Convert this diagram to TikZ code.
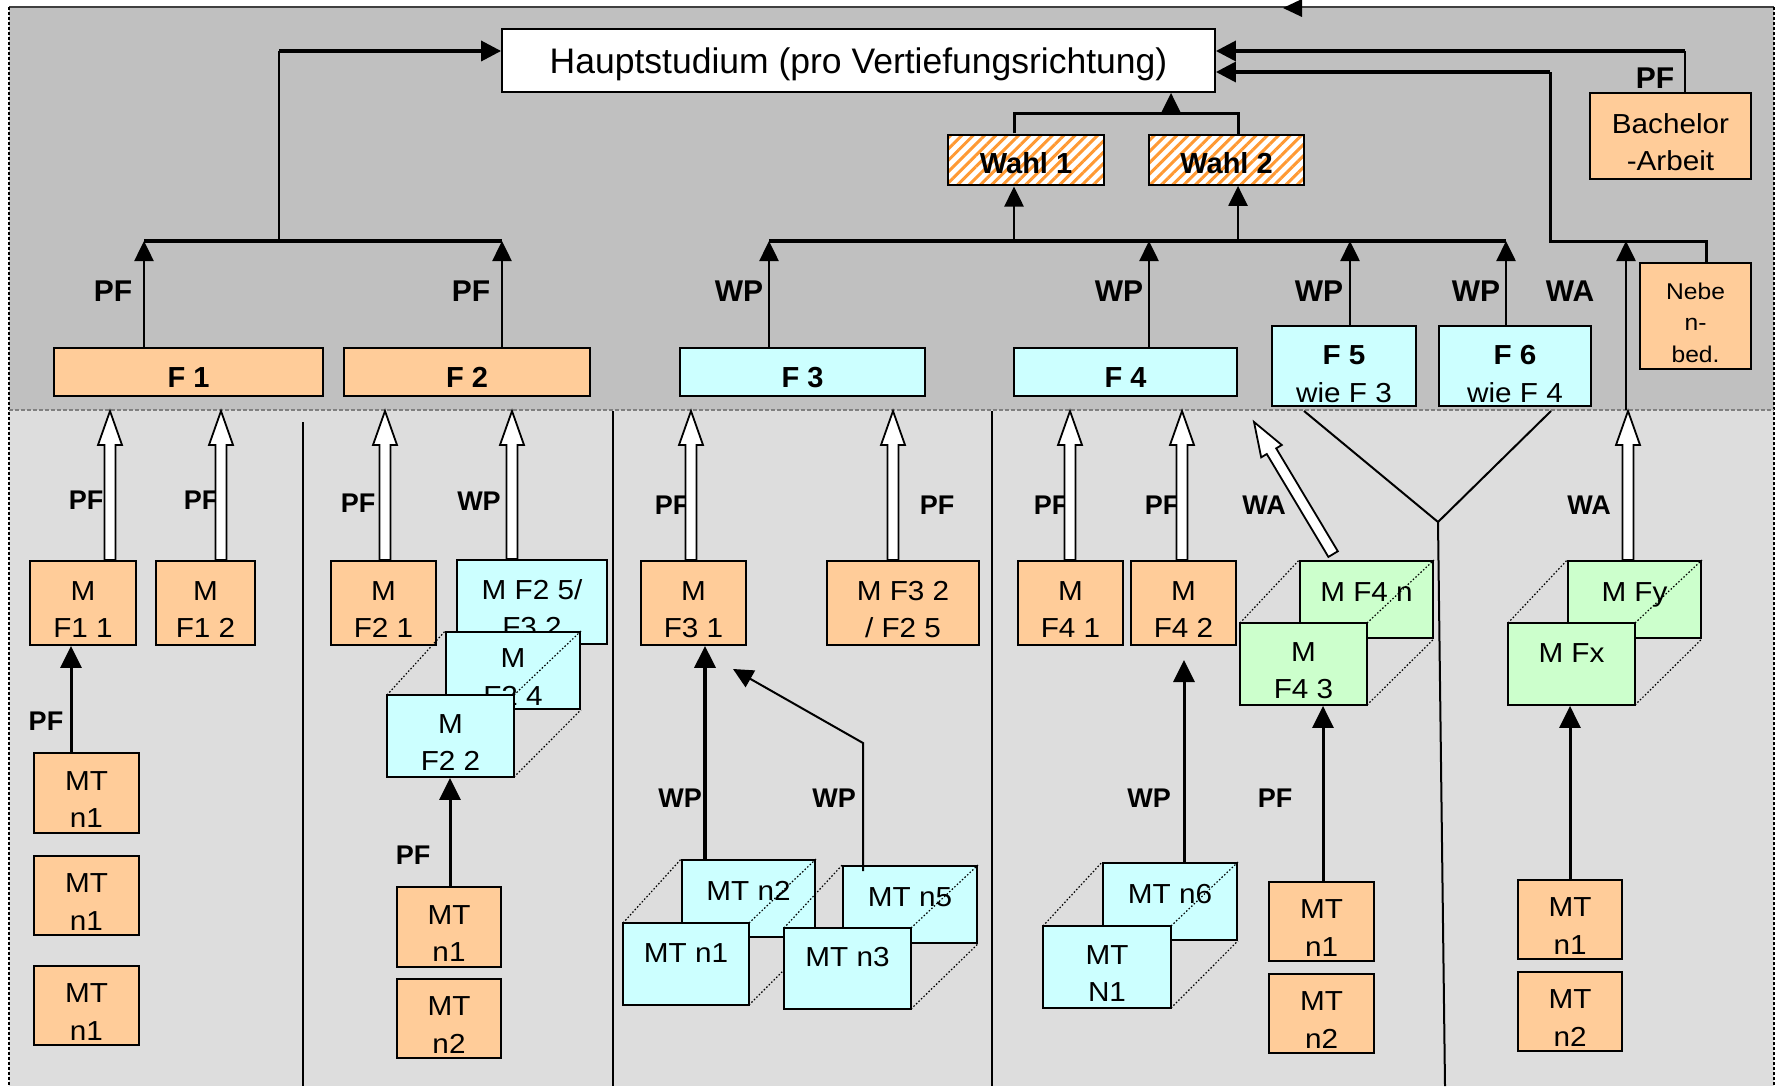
\documentclass[tikz,border=0pt]{standalone}
\usepackage{fontspec}
\setmainfont{Liberation Sans}
\newfontfamily\boxfam{Liberation Sans}[FakeStretch=1.08]
\usetikzlibrary{arrows.meta,calc,patterns.meta}
\definecolor{peach}{HTML}{FFCC99}
\definecolor{cyanb}{HTML}{CCFFFF}
\definecolor{greenb}{HTML}{CCFFCC}
\definecolor{topgray}{HTML}{C0C0C0}
\definecolor{lowgray}{HTML}{DDDDDD}
\definecolor{hatchc}{HTML}{FF9933}
\newcommand{\boxfont}{\boxfam\fontsize{27.5}{37.5}\selectfont}
\newcommand{\fbfont}{\fontsize{29}{36}\selectfont\bfseries}
\newcommand{\lblfont}{\fontsize{27}{30}\selectfont\bfseries}
\newcommand{\tlblfont}{\fontsize{30}{32}\selectfont\bfseries}
\newcommand{\hArrow}[2]{%
  \coordinate (hb) at ($(#2)!34pt!(#1)$);
  \filldraw[hol] ($(#1)!5.5pt!90:(#2)$) -- ($(hb)!5.5pt!90:(#2)$) -- ($(hb)!12pt!90:(#2)$) -- (#2) -- ($(hb)!12pt!-90:(#2)$) -- ($(hb)!5.5pt!-90:(#2)$) -- ($(#1)!5.5pt!-90:(#2)$) -- cycle;}
\tikzset{
  bx/.style={draw=black, line width=1.8pt, inner sep=0pt, align=center, font=\boxfont, text height=69pt, text depth=0pt},
  pbox/.style={bx, fill=peach},
  cbox/.style={bx, fill=cyanb},
  gbox/.style={bx, fill=greenb},
  one/.style={font=\fbfont, text height=31pt, text depth=0pt},
  wahl/.style={bx, preaction={fill=white}, pattern={Lines[angle=45,distance=8pt,line width=3pt]}, pattern color=hatchc, font=\fbfont, text height=28pt, text depth=0pt},
  lbl/.style={font=\lblfont, inner sep=0pt},
  tlbl/.style={font=\tlblfont, inner sep=0pt},
  upb/.style={text height=20pt, text depth=17pt},
  upf/.style={text height=20pt, text depth=24pt},
  hol/.style={draw=black, fill=white, line width=1.8pt, line join=miter},
  arr/.style={line width=2.5pt, -{Triangle[length=20pt,width=19pt]}},
  larr/.style={line width=3pt, -{Triangle[length=22pt,width=21pt]}},
  tharr/.style={line width=2pt, -{Triangle[length=20pt,width=19pt]}},
  bar/.style={line width=3.5pt},
  ln/.style={line width=2.5pt},
  bararr/.style={line width=3.5pt, -{Triangle[length=20pt,width=20pt]}},
  dots/.style={line width=1.2pt, dash pattern=on 1.5pt off 2pt},
  divl/.style={line width=2pt}
}
\begin{document}
\begin{tikzpicture}[x=1pt,y=-1pt]
\useasboundingbox (0,0) rectangle (1776,1086);
% backgrounds
\fill[white] (0,0) rectangle (1776,1086);
\fill[topgray] (9,7) rectangle (1774,410);
\fill[lowgray] (9,410) rectangle (1774,1086);
\draw[line width=1.5pt, black!75] (9,7) -- (1774,7);
\draw[line width=1.2pt, dash pattern=on 3pt off 2pt] (9,7) -- (9,1086);
\draw[line width=1.2pt, dash pattern=on 3pt off 2pt] (1774,7) -- (1774,1086);
\draw[line width=1.2pt, gray, dash pattern=on 4pt off 2pt] (9,410) -- (1774,410);
\fill (1283,8) -- (1302,-1) -- (1302,17) -- cycle;
% dividers
\draw[divl] (303,422) -- (303,1086);
\draw[divl] (613,411) -- (613,1086);
\draw[divl] (992,411) -- (992,1086);
\draw[divl] (1304,411) -- (1438,522) -- (1551,411);
\draw[divl] (1438,522) -- (1445,1086);

% ---------- top part ----------
\node[bx, fill=white, minimum width=713, minimum height=63, font=\fontsize{35.5}{40}\selectfont, text height=27pt, text depth=0pt] (haupt) at (858.5,60.5) {Hauptstudium (pro Vertiefungsrichtung)};
\node[pbox, one, minimum width=269, minimum height=48] (F1) at (188.5,372) {F 1};
\node[pbox, one, minimum width=246, minimum height=48] (F2) at (467,372) {F 2};
\node[cbox, one, minimum width=245, minimum height=48] (F3) at (802.5,372) {F 3};
\node[cbox, one, minimum width=223, minimum height=48] (F4) at (1125.5,372) {F 4};
\node[cbox, text height=72pt, text depth=0pt, minimum width=144, minimum height=80] (F5) at (1344,366) {\textbf{F 5}\\wie F 3};
\node[cbox, text height=72pt, text depth=0pt, minimum width=152, minimum height=80] (F6) at (1515,366) {\textbf{F 6}\\wie F 4};
\node[wahl, minimum width=156, minimum height=50] (W1) at (1026,160) {Wahl 1};
\node[wahl, minimum width=155, minimum height=50] (W2) at (1226.5,160) {Wahl 2};
\node[pbox, minimum width=161, minimum height=86, font=\boxfam\fontsize{27.5}{37}\selectfont, text height=69pt, text depth=0pt] (BA) at (1670.5,136) {Bachelor\\-Arbeit};
\node[pbox, minimum width=111, minimum height=106, font=\boxfam\fontsize{22.8}{31.5}\selectfont, text height=92pt, text depth=0pt] (NB) at (1695.5,316) {Nebe\\n-\\bed.};

\node[tlbl] (tl1) at (113,291) {PF};
\node[tlbl] (tl2) at (471,291) {PF};
\node[tlbl] (tl3) at (739,291) {WP};
\node[tlbl] (tl4) at (1119,291) {WP};
\node[tlbl] (tl5) at (1319,291) {WP};
\node[tlbl] (tl6) at (1476,291) {WP};
\node[tlbl] (tl7) at (1570,291) {WA};
\node[tlbl] (tl8) at (1655,78) {PF};

\coordinate (b1L) at (144,241);
\coordinate (b1M) at (279,241);
\coordinate (b1R) at (502,241);
\coordinate (hL) at ($(haupt.west)+(0,-9.5)$);
\draw[arr] (F1.north -| b1L) -- (b1L);
\draw[arr] (F2.north -| b1R) -- (b1R);
\draw[bar] (b1L) -- (b1R);
\draw[ln] (b1M) -- (b1M |- hL);
\draw[bararr] (b1M |- hL) -- (hL);

\coordinate (bF3) at (769,241);
\coordinate (bW1) at (1014,241);
\coordinate (bF4) at (1149,241);
\coordinate (bW2) at (1238,241);
\coordinate (bF5) at (1350,241);
\coordinate (bF6) at (1506,241);
\draw[arr] (F3.north -| bF3) -- (bF3);
\draw[arr] (F4.north -| bF4) -- (bF4);
\draw[arr] (F5.north -| bF5) -- (bF5);
\draw[arr] (F6.north -| bF6) -- (bF6);
\draw[bar] (bF3) -- (bF6);
\draw[arr] (bW1) -- (bW1 |- W1.south);
\draw[arr] (bW2) -- (bW2 |- W2.south);
\coordinate (wtop) at (1171,114);
\draw[line width=3pt] (bW1 |- W1.north) -- (bW1 |- wtop) -- (bW2 |- wtop) -- (bW2 |- W2.north);
\draw[arr] (wtop) -- (wtop |- haupt.south);

\coordinate (hR1) at ($(haupt.east)+(0,-9.5)$);
\coordinate (hR2) at ($(haupt.east)+(0,11.5)$);
\coordinate (baX) at (1685,0);
\draw[ln] (BA.north -| baX) -- (baX |- hR1);
\draw[bararr] (baX |- hR1) -- (hR1);
\coordinate (nbJ) at (1706,241);
\coordinate (jX) at (1550,241);
\draw[line width=3pt] (NB.north -| nbJ) -- (nbJ) -- (jX) -- (jX |- hR2);
\draw[bararr] (jX |- hR2) -- (hR2);
\coordinate (waT) at (1626,241);
\coordinate (waB) at (1626,410);
\draw[arr] (waB) -- (waT);

% ---------- lower labels ----------
\node[lbl] (l1) at (86,500) {PF};
\node[lbl] (l2) at (201,500) {PF};
\node[lbl] (l3) at (358,503) {PF};
\node[lbl] (l4) at (479,501) {WP};
\node[lbl] (l5) at (672,505) {PF};
\node[lbl] (l6) at (937,505) {PF};
\node[lbl] (l7) at (1051,505) {PF};
\node[lbl] (l8) at (1162,505) {PF};
\node[lbl] (l9) at (1264,505) {WA};
\node[lbl] (l10) at (1589,505) {WA};
\node[lbl] (l11) at (46,721) {PF};
\node[lbl] (l12) at (413,855) {PF};
\node[lbl] (l13) at (680,798) {WP};
\node[lbl] (l14) at (834,798) {WP};
\node[lbl] (l15) at (1149,798) {WP};
\node[lbl] (l16) at (1275,798) {PF};

% ---------- column 1 ----------
\node[pbox, minimum width=106, minimum height=84] (MF11) at (83,603) {M\\F1 1};
\node[pbox, minimum width=99, minimum height=84] (MF12) at (205.5,603) {M\\F1 2};
\node[pbox, minimum width=105, minimum height=80] (MTa1) at (86.5,793) {MT\\n1};
\node[pbox, minimum width=105, minimum height=79] (MTa2) at (86.5,895.5) {MT\\n1};
\node[pbox, minimum width=105, minimum height=79] (MTa3) at (86.5,1005.5) {MT\\n1};
% ---------- column 2 ----------
\node[pbox, minimum width=105, minimum height=84] (MF21) at (383.5,603) {M\\F2 1};
\node[cbox, minimum width=150, minimum height=84] (MF25) at (532,602) {M F2 5/\\F3 2};
\node[cbox, minimum width=134, minimum height=77] (MF24) at (513,670.5) {M\\F2 4};
\draw[dots] (387,695) -- (MF24.north west) (514,695) -- (MF24.north east) (514,777) -- (MF24.south east);
\node[cbox, minimum width=127, minimum height=82] (MF22) at (450.5,736) {M\\F2 2};
\node[pbox, minimum width=104, minimum height=80] (MTb1) at (449,927) {MT\\n1};
\node[pbox, minimum width=104, minimum height=79] (MTb2) at (449,1018.5) {MT\\n2};
% ---------- column 3 ----------
\node[pbox, minimum width=105, minimum height=84] (MF31) at (693.5,603) {M\\F3 1};
\node[pbox, minimum width=152, minimum height=84] (MF32) at (903,603) {M F3 2\\/ F2 5};
\node[cbox, upb, minimum width=133, minimum height=77] (MTc2) at (748.5,898.5) {MT n2};
\draw[dots] (623,923) -- (MTc2.north west) (749,923) -- (MTc2.north east) (749,1005) -- (MTc2.south east);
\node[cbox, upf, minimum width=126, minimum height=82] (MTc1) at (686,964) {MT n1};
\node[cbox, upb, minimum width=134, minimum height=77] (MTc5) at (910,904.5) {MT n5};
\draw[dots] (784,928) -- (MTc5.north west) (911,928) -- (MTc5.north east) (911,1009) -- (MTc5.south east);
\node[cbox, upf, minimum width=127, minimum height=81] (MTc3) at (847.5,968.5) {MT n3};
% ---------- column 4 ----------
\node[pbox, minimum width=105, minimum height=84] (MF41) at (1070.5,603) {M\\F4 1};
\node[pbox, minimum width=105, minimum height=84] (MF42) at (1183.5,603) {M\\F4 2};
\node[gbox, upb, minimum width=133, minimum height=77] (MF4n) at (1366.5,599.5) {M F4 n};
\draw[dots] (1240,623) -- (MF4n.north west) (1367,623) -- (MF4n.north east) (1367,705) -- (MF4n.south east);
\node[gbox, minimum width=127, minimum height=82] (MF43) at (1303.5,664) {M\\F4 3};
\node[cbox, upb, minimum width=134, minimum height=77] (MTd6) at (1170,901.5) {MT n6};
\draw[dots] (1043,926) -- (MTd6.north west) (1171,926) -- (MTd6.north east) (1171,1008) -- (MTd6.south east);
\node[cbox, minimum width=128, minimum height=82] (MTdN) at (1107,967) {MT\\N1};
\node[pbox, minimum width=105, minimum height=79] (MTe1) at (1321.5,921.5) {MT\\n1};
\node[pbox, minimum width=105, minimum height=79] (MTe2) at (1321.5,1013.5) {MT\\n2};
% ---------- column 5 ----------
\node[gbox, upb, minimum width=133, minimum height=77] (MFy) at (1634.5,599.5) {M Fy};
\draw[dots] (1508,623) -- (MFy.north west) (1635,623) -- (MFy.north east) (1635,705) -- (MFy.south east);
\node[gbox, upf, minimum width=127, minimum height=82] (MFx) at (1571.5,664) {M Fx};
\node[pbox, minimum width=104, minimum height=79] (MTf1) at (1570,919.5) {MT\\n1};
\node[pbox, minimum width=104, minimum height=79] (MTf2) at (1570,1011.5) {MT\\n2};

% ---------- hollow arrows ----------
\coordinate (h1e) at (110,411);  \coordinate (h1s) at (MF11.north -| h1e);  \hArrow{h1s}{h1e}
\coordinate (h2e) at (221,411);  \coordinate (h2s) at (MF12.north -| h2e);  \hArrow{h2s}{h2e}
\coordinate (h3e) at (385,411);  \coordinate (h3s) at (MF21.north -| h3e);  \hArrow{h3s}{h3e}
\coordinate (h4e) at (512,411);  \coordinate (h4s) at (MF25.north -| h4e);  \hArrow{h4s}{h4e}
\coordinate (h5e) at (691,411);  \coordinate (h5s) at (MF31.north -| h5e);  \hArrow{h5s}{h5e}
\coordinate (h6e) at (893,411);  \coordinate (h6s) at (MF32.north -| h6e);  \hArrow{h6s}{h6e}
\coordinate (h7e) at (1070,411); \coordinate (h7s) at (MF41.north -| h7e);  \hArrow{h7s}{h7e}
\coordinate (h8e) at (1182,411); \coordinate (h8s) at (MF42.north -| h8e);  \hArrow{h8s}{h8e}
\coordinate (h9e) at (1254,422); \coordinate (h9s) at ($(MF4n.north west)+(34,-6)$); \hArrow{h9s}{h9e}
\coordinate (h10e) at (1628,411); \coordinate (h10s) at (MFy.north -| h10e); \hArrow{h10s}{h10e}

% ---------- black arrows lower ----------
\coordinate (k1) at (71,0);
\draw[larr] (MTa1.north -| k1) -- (MF11.south -| k1);
\coordinate (k2) at (450,0);
\draw[larr] (MTb1.north -| k2) -- (MF22.south -| k2);
\coordinate (k3) at (705,0);
\draw[line width=3.5pt, -{Triangle[length=22pt,width=21pt]}] (MTc2.north -| k3) -- (MF31.south -| k3);
\coordinate (k5) at (863,743);
\coordinate (k5t) at (733,669);
\draw[tharr] ($(MTc5.north -| k5)+(0,6)$) -- (k5) -- (k5t);
\coordinate (k6t) at (1184,660);
\draw[larr] (MTd6.north -| k6t) -- (k6t);
\coordinate (k7) at (1323,0);
\draw[larr] (MTe1.north -| k7) -- (MF43.south -| k7);
\coordinate (k8) at (1570,0);
\draw[larr] (MTf1.north -| k8) -- (MFx.south -| k8);
\end{tikzpicture}
\end{document}
